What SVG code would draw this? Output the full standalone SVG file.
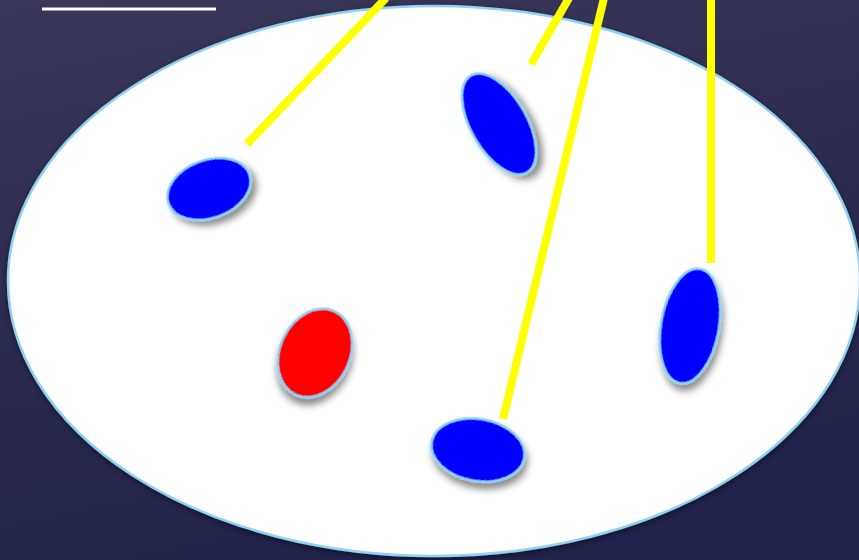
<svg xmlns="http://www.w3.org/2000/svg" width="859" height="560" viewBox="0 0 859 560">
<defs>
<linearGradient id="bg" x1="0" y1="0" x2="0.3" y2="1">
<stop offset="0" stop-color="#3a3858"/>
<stop offset="1" stop-color="#21224b"/>
</linearGradient>
<filter id="sh" x="-50%" y="-50%" width="200%" height="200%">
<feDropShadow dx="3" dy="6" stdDeviation="3.5" flood-color="#000" flood-opacity="0.45"/>
</filter>
<filter id="sh2" x="-10%" y="-10%" width="120%" height="120%">
<feDropShadow dx="0" dy="2" stdDeviation="3" flood-color="#000" flood-opacity="0.5"/>
</filter>
</defs>
<style>
.cell{stroke:#8fd0f4;stroke-width:2.5;filter:url(#sh)}
.blue{fill:#0000ff}
.red{fill:#ff0000}
.conn line{stroke:#ffff00;stroke-width:8}
</style>
<rect width="859" height="560" fill="url(#bg)"/>
<line x1="42" y1="9" x2="216" y2="9" stroke="#ffffff" stroke-width="3"/>
<g id="region">
<ellipse cx="434" cy="281" rx="426" ry="275" fill="#ffffff" stroke="#8fd0f4" stroke-width="2.5" filter="url(#sh2)"/>
</g>
<g id="conn" class="conn">
<line x1="386" y1="-2" x2="247" y2="144"/>
<line x1="569" y1="-2" x2="531" y2="64"/>
<line x1="604" y1="-2" x2="503" y2="419"/>
<line x1="711" y1="-2" x2="711" y2="263"/>
</g>
<g id="n1"><ellipse class="cell blue" cx="209" cy="189" rx="43" ry="29" transform="rotate(-20 209 189)"/></g>
<g id="n2"><ellipse class="cell blue" cx="499" cy="124" rx="28" ry="56" transform="rotate(-30 499 124)"/></g>
<g id="n3"><ellipse class="cell red" cx="315" cy="353" rx="35" ry="46" transform="rotate(25 315 353)"/></g>
<g id="n4"><ellipse class="cell blue" cx="478" cy="450" rx="47" ry="31" transform="rotate(10 478 450)"/></g>
<g id="n5"><ellipse class="cell blue" cx="690" cy="326" rx="29" ry="58" transform="rotate(10 690 326)"/></g>
</svg>
